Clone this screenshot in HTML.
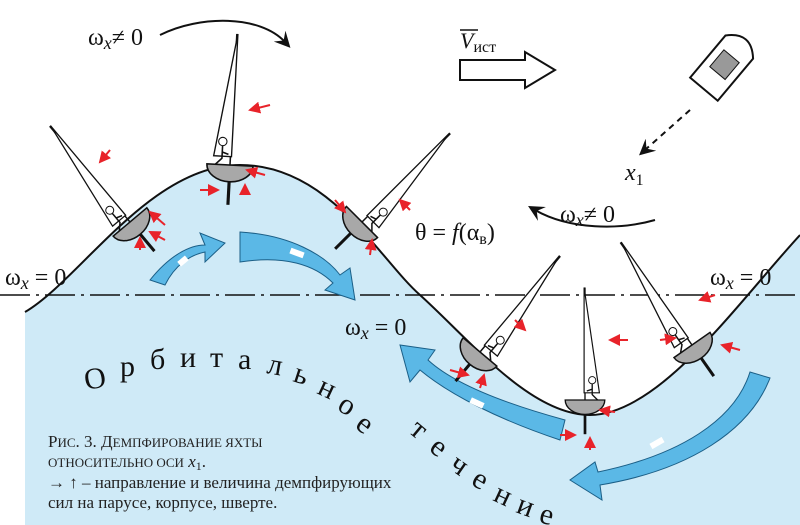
<!DOCTYPE html>
<html><head><meta charset="utf-8"><style>
body{margin:0;background:#fff;width:800px;height:525px;overflow:hidden}
svg{display:block}
text{font-family:"Liberation Serif",serif}
</style></head><body>
<svg width="800" height="525" viewBox="0 0 800 525">
<defs>
<marker id="rh" markerWidth="6" markerHeight="6" refX="5" refY="3" orient="auto"><path d="M0,0 L6,3 L0,6 Z" fill="#e8232a"/></marker>
<marker id="bh" markerWidth="8" markerHeight="8" refX="4" refY="4" orient="auto"><path d="M0,0 L8,4 L0,8 L3,4 Z" fill="#111"/></marker>
<g id="boat">
<line x1="0" y1="-125" x2="0" y2="0" stroke="#111" stroke-width="1.5"/>
<path d="M1,-125 L-16,-8 L1,-8 Z" fill="#fff" stroke="#111" stroke-width="1.3"/>
<path d="M-22,0 A22,16 0 0 0 22,0 Z" fill="#a8a8a8" stroke="#111" stroke-width="1.5"/>
<line x1="0" y1="16" x2="0" y2="38" stroke="#111" stroke-width="3"/>
<circle cx="-8" cy="-22" r="4" fill="#fff" stroke="#111"/>
<path d="M-8,-18 L-8,-6 L-14,0 M-8,-12 L-2,-10" stroke="#111" fill="none" stroke-width="1.5"/>
</g>
</defs>
<path d="M25,525 L25,312 C80,280 150,165 240,165 C330,165 380,260 420,295 C470,340 530,415 590,415 C660,415 740,300 800,235 L800,525 Z" fill="#cfeaf7"/>
<path d="M25,312 C80,280 150,165 240,165 C330,165 380,260 420,295 C470,340 530,415 590,415 C660,415 740,300 800,235" fill="none" stroke="#111" stroke-width="2"/>
<line x1="0" y1="295" x2="800" y2="295" stroke="#111" stroke-width="1.5" stroke-dasharray="30,6,3,6"/>
<g fill="#5bb8e6" stroke="#1b5f87" stroke-width="1">
<path d="M150,280 C170,255 190,245 205,245 L200,233 L225,243 L205,262 L205,252 C190,255 175,265 165,285 Z"/>
<path d="M240,232 C290,235 325,255 340,275 L350,268 L355,300 L325,290 L333,283 C315,265 285,255 240,262 Z"/>
<path d="M770,378 C750,430 690,470 600,485 L602,500 L570,480 L595,462 L598,472 C680,455 735,420 750,372 Z"/>
<path d="M560,440 C500,420 450,395 420,370 L410,382 L400,345 L435,350 L428,360 C455,385 510,405 565,420 Z"/>
</g>
<g fill="#fff"><rect x="178" y="258" width="10" height="6" transform="rotate(-40 183 261)"/><rect x="290" y="250" width="14" height="6" transform="rotate(20 297 253)"/><rect x="650" y="440" width="14" height="6" transform="rotate(-30 657 443)"/><rect x="470" y="400" width="14" height="6" transform="rotate(25 477 403)"/></g>
<use href="#boat" transform="translate(130,222) rotate(-40)"/>
<use href="#boat" transform="translate(230,165) rotate(3) scale(1.05)"/>
<use href="#boat" transform="translate(362,222) rotate(45) scale(-1,1)"/>
<use href="#boat" transform="translate(480,352) rotate(40) scale(-1,1)"/>
<use href="#boat" transform="translate(585,400) scale(-0.9,0.9)"/>
<use href="#boat" transform="translate(692,345) rotate(-35)"/>
<g stroke="#e8232a" stroke-width="2" marker-end="url(#rh)">
<line x1="110" y1="150" x2="100" y2="162"/><line x1="165" y1="225" x2="150" y2="212"/><line x1="165" y1="240" x2="150" y2="232"/><line x1="140" y1="250" x2="140" y2="238"/>
<line x1="270" y1="105" x2="250" y2="110"/><line x1="265" y1="175" x2="247" y2="170"/><line x1="200" y1="190" x2="218" y2="190"/><line x1="245" y1="195" x2="245" y2="185"/>
<line x1="410" y1="210" x2="400" y2="200"/><line x1="335" y1="200" x2="345" y2="212"/><line x1="370" y1="255" x2="372" y2="240"/>
<line x1="515" y1="320" x2="525" y2="330"/><line x1="450" y1="370" x2="468" y2="375"/><line x1="480" y1="388" x2="484" y2="375"/>
<line x1="628" y1="340" x2="610" y2="340"/><line x1="560" y1="435" x2="575" y2="435"/><line x1="615" y1="412" x2="600" y2="410"/><line x1="590" y1="450" x2="590" y2="438"/>
<line x1="715" y1="295" x2="700" y2="300"/><line x1="740" y1="350" x2="722" y2="345"/><line x1="660" y1="340" x2="675" y2="338"/>
</g>
<path d="M160,35 C200,15 260,15 285,42" fill="none" stroke="#111" stroke-width="2" marker-end="url(#bh)"/>
<path d="M655,220 C620,230 570,230 535,210" fill="none" stroke="#111" stroke-width="2" marker-end="url(#bh)"/>
<path d="M460,60 L525,60 L525,52 L555,70 L525,88 L525,80 L460,80 Z" fill="#fff" stroke="#111" stroke-width="2"/>
<g transform="translate(720,70) rotate(40)"><path d="M-18,-30 Q0,-50 18,-30 L18,25 L-18,25 Z" fill="#fff" stroke="#111" stroke-width="2"/><rect x="-10" y="-18" width="20" height="22" fill="#999" stroke="#111"/></g>
<line x1="690" y1="110" x2="645" y2="150" stroke="#111" stroke-width="2" stroke-dasharray="6,5" marker-end="url(#bh)"/>
<g font-size="24" fill="#111">
<text x="88" y="45">ω<tspan font-style="italic" font-size="18" dy="4">x</tspan><tspan dy="-4">≠ 0</tspan></text>
<text x="460" y="48" font-size="22"><tspan font-style="italic">V</tspan><tspan font-size="16" dy="4">ист</tspan></text>
<line x1="460" y1="30" x2="478" y2="30" stroke="#111" stroke-width="1.5"/>
<text x="625" y="180" font-style="italic">x<tspan font-size="16" font-style="normal" dy="5">1</tspan></text>
<text x="560" y="222">ω<tspan font-style="italic" font-size="18" dy="4">x</tspan><tspan dy="-4">≠ 0</tspan></text>
<text x="415" y="240">θ = <tspan font-style="italic">f</tspan>(α<tspan font-size="16" dy="4">в</tspan><tspan dy="-4">)</tspan></text>
<text x="5" y="285">ω<tspan font-style="italic" font-size="18" dy="4">x</tspan><tspan dy="-4"> = 0</tspan></text>
<text x="710" y="285">ω<tspan font-style="italic" font-size="18" dy="4">x</tspan><tspan dy="-4"> = 0</tspan></text>
<text x="345" y="335">ω<tspan font-style="italic" font-size="18" dy="4">x</tspan><tspan dy="-4"> = 0</tspan></text>
</g>
<g font-family="Liberation Sans,sans-serif" font-size="30" fill="#111">
<text x="86" y="390" transform="rotate(-10 86 390)">О</text><text x="120" y="376">р</text><text x="150" y="369">б</text><text x="180" y="367">и</text><text x="210" y="367">т</text><text x="238" y="369">а</text><text x="266" y="373" transform="rotate(10 266 373)">л</text><text x="292" y="381" transform="rotate(18 292 381)">ь</text><text x="316" y="393" transform="rotate(25 316 393)">н</text><text x="336" y="409" transform="rotate(32 336 409)">о</text><text x="354" y="427" transform="rotate(38 354 427)">е</text>
<text x="408" y="432" transform="rotate(40 408 432)">т</text><text x="428" y="450" transform="rotate(38 428 450)">е</text><text x="448" y="468" transform="rotate(35 448 468)">ч</text><text x="470" y="484" transform="rotate(30 470 484)">е</text><text x="492" y="500" transform="rotate(25 492 500)">н</text><text x="515" y="512" transform="rotate(20 515 512)">и</text><text x="538" y="522" transform="rotate(15 538 522)">е</text>
</g>
<g font-size="17" fill="#222">
<text x="48" y="447">Р<tspan font-size="13">ИС</tspan>. 3. Д<tspan font-size="13">ЕМПФИРОВАНИЕ ЯХТЫ</tspan></text>
<text x="48" y="467"><tspan font-size="13">ОТНОСИТЕЛЬНО ОСИ</tspan> <tspan font-style="italic">x</tspan><tspan font-size="12" dy="3">1</tspan><tspan dy="-3">.</tspan></text>
<text x="48" y="488">→ ↑  – направление и величина демпфирующих</text>
<text x="48" y="508">сил на парусе, корпусе, шверте.</text>
</g>
</svg>
</body></html>
